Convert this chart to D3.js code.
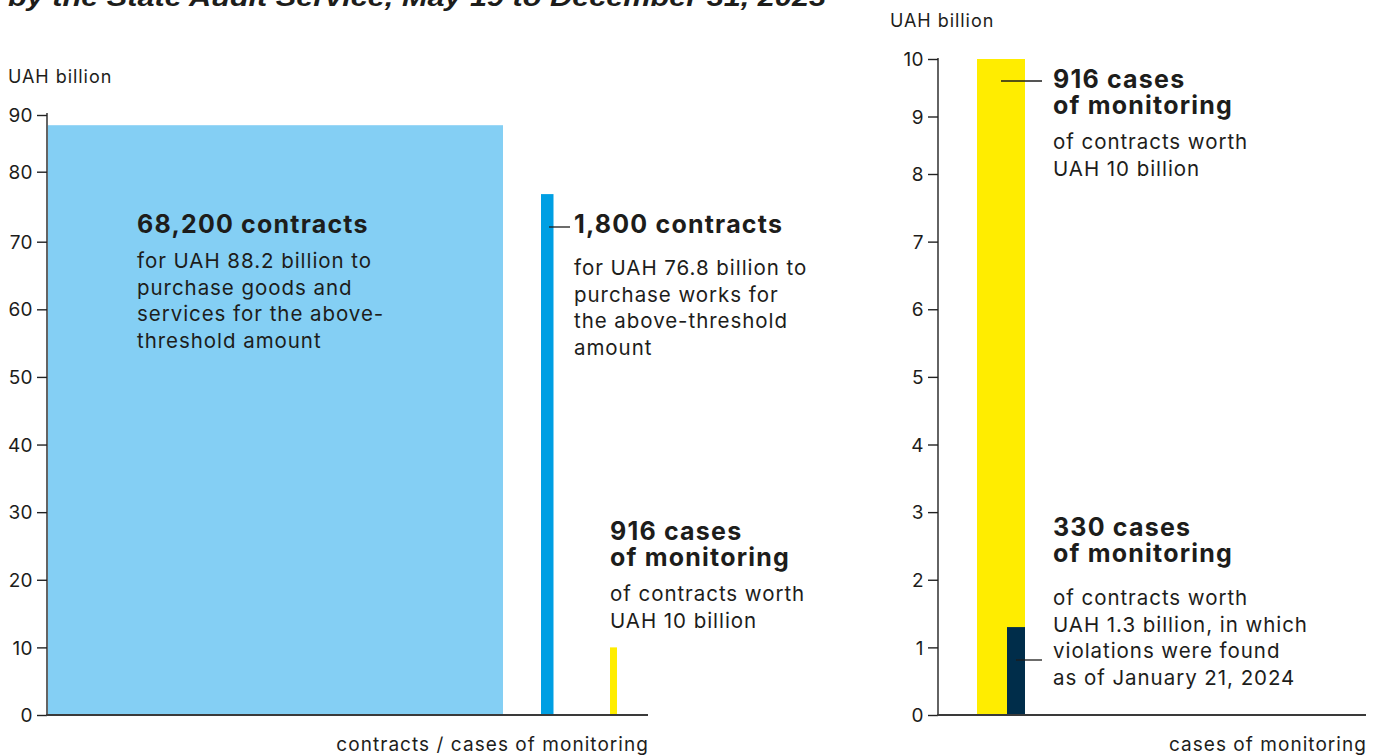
<!DOCTYPE html>
<html>
<head>
<meta charset="utf-8">
<script src="https://cdn.jsdelivr.net/npm/d3@7/dist/d3.min.js"></script>
<style>
  html, body { margin: 0; padding: 0; background: #fff; }
  svg { display: block; }
  text { font-family: "Inter", "Lato", sans-serif; fill: #1d1d1b; }
</style>
</head>
<body>
<svg id="chart" width="1383" height="755"></svg>
<script>
// ---------- data ----------
const titleText = "by the State Audit Service, May 19 to December 31, 2023";
const leftCategories = ["goods and services contracts", "works contracts", "monitoring cases"];
const leftValues = [88.2, 76.8, 10];
const leftTicks = [0, 10, 20, 30, 40, 50, 60, 70, 80, 90];
const rightCategories = ["monitoring cases", "violations found"];
const rightValues = [10, 1.3];
const rightTicks = [0, 1, 2, 3, 4, 5, 6, 7, 8, 9, 10];
const yAxisTitle = "UAH billion";
const leftXTitle = "contracts / cases of monitoring";
const rightXTitle = "cases of monitoring";
const leftNotes = [
  { head: ["68,200 contracts"], body: ["for UAH 88.2 billion to", "purchase goods and", "services for the above-", "threshold amount"] },
  { head: ["1,800 contracts"], body: ["for UAH 76.8 billion to", "purchase works for", "the above-threshold", "amount"] },
  { head: ["916 cases", "of monitoring"], body: ["of contracts worth", "UAH 10 billion"] }
];
const rightNotes = [
  { head: ["916 cases", "of monitoring"], body: ["of contracts worth", "UAH 10 billion"] },
  { head: ["330 cases", "of monitoring"], body: ["of contracts worth", "UAH 1.3 billion, in which", "violations were found", "as of January 21, 2024"] }
];

// ---------- layout ----------
const svg = d3.select("#chart");
const leftColors = d3.scaleOrdinal().domain(leftCategories).range(["#84cff4", "#009fe3", "#ffed00"]);
const rightColors = d3.scaleOrdinal().domain(rightCategories).range(["#ffed00", "#002d4a"]);

const yL = d3.scaleLinear().domain([0, 70, 80, 90]).range([715, 241.7, 171.7, 115]);
const yR = d3.scaleLinear().domain([0, 8, 9, 10]).range([715, 174, 116.5, 59]);

const xL = d3.scaleOrdinal().domain(leftCategories).range([48, 541, 610]);
const wL = d3.scaleOrdinal().domain(leftCategories).range([455, 12.5, 7]);
const xR = d3.scaleOrdinal().domain(rightCategories).range([977, 1007]);
const wR = d3.scaleOrdinal().domain(rightCategories).range([48, 18]);

// title (cut at top)
svg.append("text")
  .attr("x", 8).attr("y", 6)
  .attr("textLength", 818).attr("lengthAdjust", "spacingAndGlyphs")
  .style("font-family", "'Liberation Sans', Arial, sans-serif")
  .style("font-weight", "bold").style("font-style", "italic")
  .style("font-size", "26px")
  .text(titleText);

// ---------- left panel ----------
const gL = svg.append("g");
gL.selectAll("rect").data(leftCategories).join("rect")
  .attr("x", d => xL(d))
  .attr("width", d => wL(d))
  .attr("y", (d, i) => yL(leftValues[i]))
  .attr("height", (d, i) => yL(0) - yL(leftValues[i]))
  .attr("fill", d => leftColors(d));

function styleAxis(ax, top) {
  ax.select(".domain").attr("stroke", "#222").attr("stroke-width", 1.4).attr("d", `M0,715V${top}`);
  ax.selectAll(".tick line").attr("stroke", "#222").attr("stroke-width", 1.4);
  ax.selectAll(".tick text").style("font-size", "19px").style("font-family", "Inter, sans-serif")
    .style("letter-spacing", "0.4px").attr("fill", "#1d1d1b").attr("dy", "0.35em");
}

const axL = gL.append("g").attr("transform", "translate(47,0)")
  .call(d3.axisLeft(yL).tickValues(leftTicks).tickSize(10).tickSizeOuter(0).tickPadding(4));
styleAxis(axL, yL(90) - 2);

gL.append("line").attr("x1", 46).attr("x2", 648).attr("y1", yL(0)).attr("y2", yL(0))
  .attr("stroke", "#3a3a3a").attr("stroke-width", 2);

gL.append("text").attr("x", 8).attr("y", 83).style("font-size", "18px").style("letter-spacing", "0.95px").text(yAxisTitle);
gL.append("text").attr("x", 649).attr("y", 751).attr("text-anchor", "end").style("font-size", "19px").style("letter-spacing", "1.05px").text(leftXTitle);

// ---------- right panel ----------
const gR = svg.append("g");
gR.selectAll("rect").data(rightCategories).join("rect")
  .attr("x", d => xR(d))
  .attr("width", d => wR(d))
  .attr("y", (d, i) => yR(rightValues[i]))
  .attr("height", (d, i) => yR(0) - yR(rightValues[i]))
  .attr("fill", d => rightColors(d));

const axR = gR.append("g").attr("transform", "translate(938,0)")
  .call(d3.axisLeft(yR).tickValues(rightTicks).tickSize(10).tickSizeOuter(0).tickPadding(4));
styleAxis(axR, yR(10) - 1);

gR.append("line").attr("x1", 937).attr("x2", 1366).attr("y1", yR(0)).attr("y2", yR(0))
  .attr("stroke", "#3a3a3a").attr("stroke-width", 2);

gR.append("text").attr("x", 890).attr("y", 27).style("font-size", "18px").style("letter-spacing", "0.95px").text(yAxisTitle);
gR.append("text").attr("x", 1367).attr("y", 751).attr("text-anchor", "end").style("font-size", "19px").style("letter-spacing", "1.05px").text(rightXTitle);

// ---------- annotations ----------
function note(g, x, headY, bodyY, n, lineH) {
  const h = g.append("text").attr("x", x).attr("y", headY)
    .style("font-size", "25px").style("font-weight", "700").style("letter-spacing", "1.2px");
  n.head.forEach((t, i) => {
    h.append("tspan").attr("x", x).attr("y", headY + i * 26).text(t);
  });
  const b = g.append("text").attr("x", x).attr("y", bodyY)
    .style("font-size", "20.5px").style("letter-spacing", "0.95px");
  n.body.forEach((t, i) => {
    b.append("tspan").attr("x", x).attr("y", bodyY + i * lineH).text(t);
  });
}
note(gL, 137, 233, 268, leftNotes[0], 26.7);
note(gL, 574, 233, 275, leftNotes[1], 26.7);
note(gL, 610, 540, 601, leftNotes[2], 26.7);
note(gR, 1053, 88, 149, rightNotes[0], 26.7);
note(gR, 1053, 536, 605, rightNotes[1], 26.7);

// leader lines
const leaders = [[549, 570, 227], [1001, 1042, 81], [1016, 1042, 660]];
svg.selectAll("line.leader").data(leaders).join("line").attr("class", "leader")
  .attr("x1", d => d[0]).attr("x2", d => d[1]).attr("y1", d => d[2]).attr("y2", d => d[2])
  .attr("stroke", "#1d1d1b").attr("stroke-width", 1.3);
</script>
</body>
</html>
